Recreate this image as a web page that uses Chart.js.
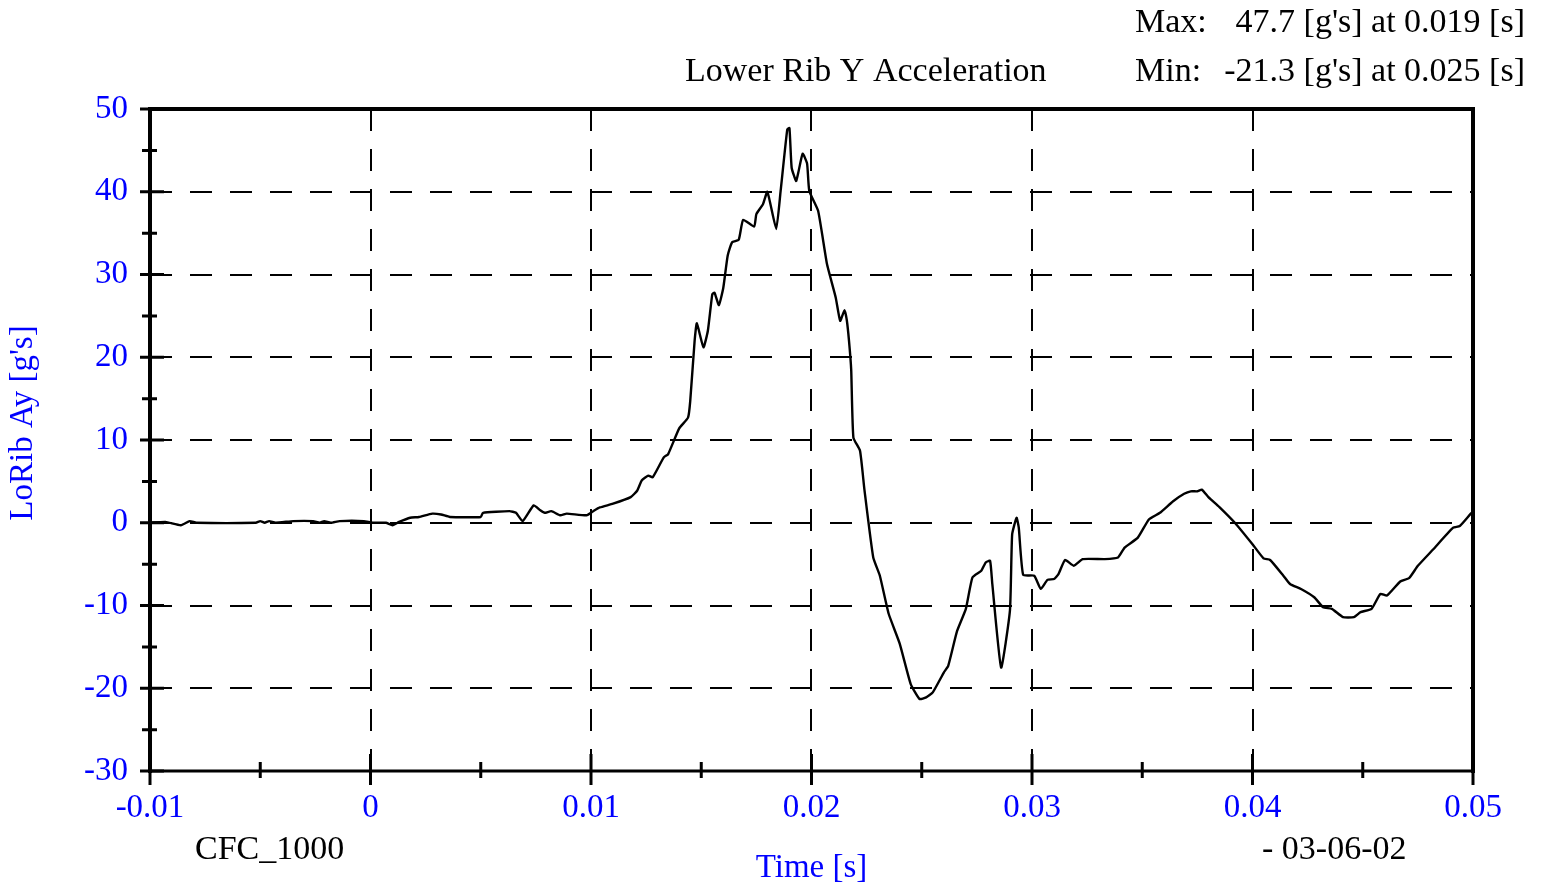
<!DOCTYPE html>
<html>
<head>
<meta charset="utf-8">
<script src="https://cdn.jsdelivr.net/npm/chart.js@4.4.1/dist/chart.umd.min.js"></script>
<style>
  html, body { margin: 0; padding: 0; background: #fff; }
  #wrap { width: 1544px; height: 886px; position: relative; }
</style>
</head>
<body>
<div id="wrap"><canvas id="accelChart"></canvas></div>
<script>
// time [s] and LoRib Ay [g's]
const timeValues = [
  -0.0100, -0.0093, -0.0086, -0.0082, -0.0079, -0.0052, -0.0050, -0.0048, -0.0046, -0.0043,
  -0.0035, -0.0026, -0.0023, -0.0021, -0.0018, -0.0014, -0.0003, 0.0001, 0.0007, 0.0010,
  0.0013, 0.0018, 0.0022, 0.0028, 0.0032, 0.0036, 0.0050, 0.0051, 0.0063, 0.0066,
  0.0069, 0.0074, 0.0077, 0.0079, 0.0082, 0.0086, 0.0089, 0.0098, 0.0101, 0.0104,
  0.0110, 0.0118, 0.0121, 0.0123, 0.0126, 0.0128, 0.0133, 0.0135, 0.0140, 0.0144,
  0.0145, 0.0147, 0.0148, 0.0151, 0.0153, 0.0155, 0.0156, 0.0158, 0.0160, 0.0162,
  0.0164, 0.0167, 0.0169, 0.0174, 0.0175, 0.0178, 0.0180, 0.0184, 0.0186, 0.0189,
  0.0190, 0.0191, 0.0193, 0.0194, 0.0196, 0.0198, 0.0199, 0.0203, 0.0207, 0.0211,
  0.0213, 0.0215, 0.0216, 0.0217, 0.0218, 0.0219, 0.0222, 0.0224, 0.0228, 0.0231,
  0.0235, 0.0240, 0.0245, 0.0249, 0.0252, 0.0255, 0.0260, 0.0262, 0.0266, 0.0270,
  0.0273, 0.0277, 0.0279, 0.0281, 0.0282, 0.0286, 0.0290, 0.0291, 0.0293, 0.0294,
  0.0296, 0.0301, 0.0304, 0.0307, 0.0310, 0.0312, 0.0315, 0.0319, 0.0323, 0.0333,
  0.0339, 0.0342, 0.0348, 0.0353, 0.0358, 0.0364, 0.0369, 0.0372, 0.0375, 0.0377,
  0.0380, 0.0385, 0.0392, 0.0400, 0.0405, 0.0408, 0.0414, 0.0417, 0.0422, 0.0428,
  0.0432, 0.0436, 0.0441, 0.0446, 0.0449, 0.0454, 0.0458, 0.0461, 0.0467, 0.0471,
  0.0475, 0.0482, 0.0491, 0.0494, 0.0499, 0.0500
];
const accelValues = [
  0.0, 0.1, -0.3, 0.2, 0.0, 0.0, 0.2, 0.0, 0.2, 0.0,
  0.2, 0.2, 0.0, 0.2, 0.0, 0.2, 0.2, 0.0, 0.0, -0.3,
  0.1, 0.6, 0.7, 1.1, 1.0, 0.7, 0.7, 1.2, 1.4, 1.2,
  0.2, 2.1, 1.5, 1.2, 1.4, 0.9, 1.1, 0.9, 1.4, 1.85,
  2.3, 3.1, 3.9, 5.1, 5.7, 5.5, 7.9, 8.3, 11.4, 12.7,
  14.7, 22.0, 24.1, 21.2, 23.2, 27.6, 27.8, 26.3, 28.4, 32.3,
  33.9, 34.2, 36.6, 35.8, 37.3, 38.5, 40.0, 35.5, 40.1, 47.5,
  47.7, 42.9, 41.3, 42.3, 44.6, 43.4, 40.1, 37.7, 31.3, 27.2,
  24.4, 25.7, 24.5, 22.0, 18.5, 10.3, 8.7, 4.0, -4.2, -6.4,
  -11.0, -14.6, -19.5, -21.3, -21.1, -20.5, -18.1, -17.3, -13.1, -10.4,
  -6.6, -5.8, -4.8, -4.6, -7.4, -17.5, -10.6, -1.4, 0.6, -0.6,
  -6.3, -6.4, -8.0, -6.9, -6.8, -6.2, -4.5, -5.2, -4.4, -4.4,
  -4.2, -3.0, -1.8, 0.4, 1.2, 2.6, 3.5, 3.8, 3.8, 4.0,
  3.1, 1.9, 0.0, -2.6, -4.3, -4.5, -6.4, -7.4, -8.0, -9.0,
  -10.2, -10.4, -11.4, -11.4, -10.8, -10.4, -8.6, -8.8, -7.1, -6.7,
  -5.2, -3.2, -0.6, -0.4, 1.1, 1.3
];

const xTickValues = [-0.01, 0, 0.01, 0.02, 0.03, 0.04, 0.05];
const xTickLabels = ['-0.01', '0', '0.01', '0.02', '0.03', '0.04', '0.05'];
const xMinorTicks = [-0.005, 0.005, 0.015, 0.025, 0.035, 0.045];
const yTickValues = [-30, -20, -10, 0, 10, 20, 30, 40, 50];
const yTickLabels = ['-30', '-20', '-10', '0', '10', '20', '30', '40', '50'];
const yMinorTicks = [-25, -15, -5, 5, 15, 25, 35, 45];

const BLUE = '#0000ff';
const FONT = 'Liberation Serif';

// frame, tick marks and the loose text around the plot
const decorPlugin = {
  id: 'decor',
  afterDatasetsDraw(chart) {
    const { ctx, chartArea: a, scales: { x, y } } = chart;
    ctx.save();
    ctx.strokeStyle = '#000';
    ctx.lineCap = 'butt';

    // box
    ctx.lineWidth = 4;
    ctx.beginPath();
    ctx.moveTo(a.left, a.bottom + 2);
    ctx.lineTo(a.left, a.top - 2);
    ctx.moveTo(a.left - 2, a.top);
    ctx.lineTo(a.right + 2, a.top);
    ctx.moveTo(a.right, a.top - 2);
    ctx.lineTo(a.right, a.bottom + 2);
    ctx.stroke();
    ctx.lineWidth = 3;
    ctx.beginPath();
    ctx.moveTo(a.left - 2, a.bottom);
    ctx.lineTo(a.right + 2, a.bottom);
    ctx.stroke();

    // y ticks
    ctx.lineWidth = 3;
    ctx.beginPath();
    yTickValues.forEach(v => {
      const py = y.getPixelForValue(v);
      ctx.moveTo(a.left - 10, py);
      ctx.lineTo(a.left + 14, py);
    });
    yMinorTicks.forEach(v => {
      const py = y.getPixelForValue(v);
      ctx.moveTo(a.left - 8, py);
      ctx.lineTo(a.left + 7, py);
    });
    // x ticks
    xTickValues.forEach(v => {
      const px = x.getPixelForValue(v);
      ctx.moveTo(px, a.bottom - 17);
      ctx.lineTo(px, a.bottom + 14);
    });
    xMinorTicks.forEach(v => {
      const px = x.getPixelForValue(v);
      ctx.moveTo(px, a.bottom - 9);
      ctx.lineTo(px, a.bottom + 7);
    });
    ctx.stroke();

    // texts
    ctx.font = '34px "' + FONT + '"';
    ctx.textBaseline = 'alphabetic';
    ctx.fillStyle = '#000';
    ctx.textAlign = 'left';
    ctx.fillText('Lower Rib Y Acceleration', 685, 81);
    ctx.fillText('Max:', 1135, 32);
    ctx.fillText('Min:', 1135, 81);
    ctx.textAlign = 'right';
    ctx.fillText("47.7 [g's] at 0.019 [s]", 1525, 32);
    ctx.fillText("-21.3 [g's] at 0.025 [s]", 1525, 81);
    ctx.textAlign = 'left';
    ctx.fillText('CFC_1000', 195, 859);
    ctx.fillText('- 03-06-02', 1262, 859);

    ctx.fillStyle = BLUE;
    ctx.font = '33px "' + FONT + '"';
    ctx.textAlign = 'center';
    ctx.fillText('Time [s]', (a.left + a.right) / 2, 877);

    ctx.translate(32, 423);
    ctx.rotate(-Math.PI / 2);
    ctx.fillText("LoRib Ay [g's]", 0, 0);
    ctx.restore();
  }
};

new Chart(document.getElementById('accelChart'), {
  type: 'line',
  data: {
    labels: timeValues,
    datasets: [{
      label: 'LoRib Ay',
      data: timeValues.map((t, i) => ({ x: t, y: accelValues[i] })),
      borderColor: '#000',
      borderWidth: 2.4,
      pointRadius: 0,
      tension: 0.15,
      fill: false
    }]
  },
  options: {
    responsive: true,
    maintainAspectRatio: false,
    animation: false,
    layout: { padding: { left: 0, right: 71, top: 109, bottom: 0 } },
    plugins: {
      legend: { display: false },
      tooltip: { enabled: false }
    },
    scales: {
      x: {
        type: 'linear',
        min: -0.01,
        max: 0.05,
        afterFit: s => { s.height = 115; },
        afterBuildTicks: s => { s.ticks = xTickValues.map(v => ({ value: v })); },
        ticks: {
          color: BLUE,
          font: { family: FONT, size: 33 },
          padding: 18,
          maxRotation: 0,
          autoSkip: false,
          callback: (v, i) => xTickLabels[i]
        },
        grid: { color: '#000', lineWidth: 2, drawTicks: false },
        border: { display: false, dash: [22, 18] }
      },
      y: {
        min: -30,
        max: 50,
        afterFit: s => { s.width = 150; },
        afterBuildTicks: s => { s.ticks = yTickValues.map(v => ({ value: v })); },
        ticks: {
          color: BLUE,
          font: { family: FONT, size: 33 },
          padding: 22,
          autoSkip: false,
          callback: (v, i) => yTickLabels[i]
        },
        grid: { color: '#000', lineWidth: 2, drawTicks: false },
        border: { display: false, dash: [22, 18] }
      }
    }
  },
  plugins: [decorPlugin]
});
</script>
</body>
</html>
